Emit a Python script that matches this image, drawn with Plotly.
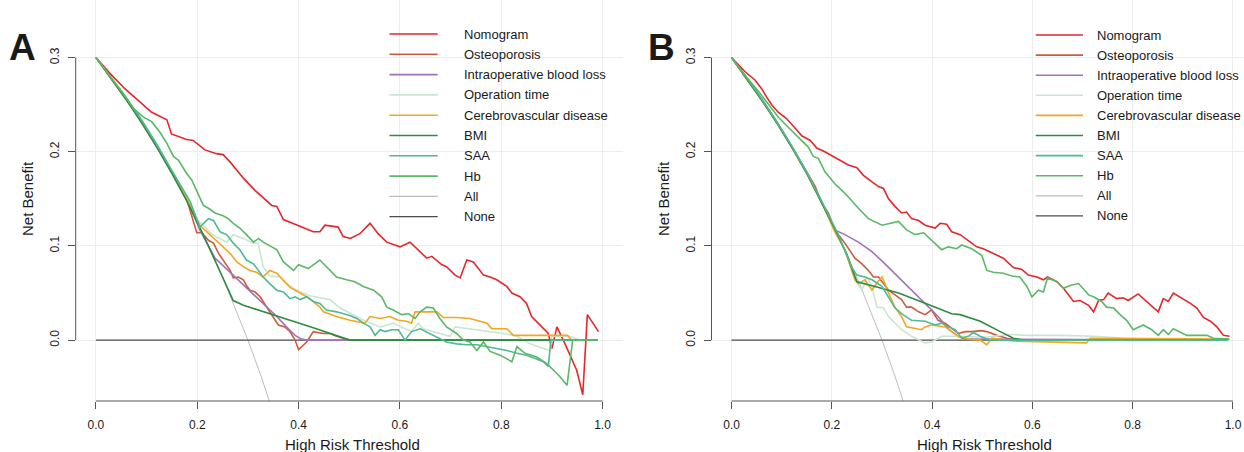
import plotly.graph_objects as go

# ---------------- data ----------------
series_names = ["Nomogram", "Osteoporosis", "Intraoperative blood loss", "Operation time",
                "Cerebrovascular disease", "BMI", "SAA", "Hb", "All", "None"]
series_colors = ["#E6262A", "#CF5A3E", "#A072B9", "#C9E6D2", "#F2A71E",
                 "#2E8B41", "#4DBA96", "#5BB866", "#BDBDBD", "#4D4D4D"]
x_ticks = [0.0, 0.2, 0.4, 0.6, 0.8, 1.0]
x_tick_labels = ["0.0", "0.2", "0.4", "0.6", "0.8", "1.0"]
y_ticks = [0.0, 0.1, 0.2, 0.3]
y_tick_labels = ["0.0", "0.1", "0.2", "0.3"]
panel_labels = ["A", "B"]
x_title = "High Risk Threshold"
y_title = "Net Benefit"

# reference strategies (same in both panels)
all_t = [0, 0.025, 0.05, 0.075, 0.1, 0.125, 0.15, 0.175, 0.2, 0.225, 0.25, 0.275, 0.3, 0.325, 0.35]
all_nb = [0.3, 0.282, 0.263, 0.243, 0.222, 0.200, 0.176, 0.152, 0.125, 0.097, 0.067, 0.034, 0.0, -0.037, -0.077]
none_t = [0.0, 0.99]
none_nb = [0.0, 0.0]

# ---- panel A ----
a_nomogram_t = [0, 0.028, 0.057, 0.087, 0.110, 0.140, 0.149, 0.179, 0.192, 0.215, 0.238, 0.251, 0.265, 0.291, 0.314,
                0.347, 0.357, 0.370, 0.400, 0.429, 0.442, 0.452, 0.478, 0.488, 0.502, 0.521, 0.541, 0.557, 0.574, 0.600,
                0.620, 0.640, 0.653, 0.663, 0.683, 0.692, 0.709, 0.719, 0.732, 0.745, 0.765, 0.778, 0.791, 0.811, 0.821,
                0.837, 0.850, 0.860, 0.877, 0.893, 0.900, 0.910, 0.926, 0.949, 0.961, 0.970, 0.992]
a_nomogram_nb = [0.300, 0.283, 0.267, 0.253, 0.242, 0.234, 0.219, 0.213, 0.212, 0.202, 0.198, 0.197, 0.189, 0.172, 0.159,
                 0.143, 0.142, 0.128, 0.121, 0.115, 0.115, 0.122, 0.120, 0.110, 0.108, 0.113, 0.124, 0.113, 0.104, 0.099,
                 0.104, 0.094, 0.087, 0.089, 0.080, 0.078, 0.069, 0.066, 0.085, 0.083, 0.069, 0.067, 0.064, 0.057, 0.050,
                 0.046, 0.039, 0.025, 0.016, 0.007, -0.009, 0.014, -0.004, -0.032, -0.058, 0.027, 0.009]

a_osteo_t = [0, 0.03, 0.06, 0.09, 0.12, 0.15, 0.18, 0.199, 0.209, 0.222, 0.232, 0.242, 0.251, 0.265, 0.271,
             0.281, 0.291, 0.297, 0.304, 0.314, 0.324, 0.337, 0.347, 0.360, 0.373, 0.383, 0.393, 0.400, 0.416, 0.429,
             0.449, 0.462, 0.475, 0.501, 0.990]
a_osteo_nb = [0.300, 0.278, 0.256, 0.232, 0.206, 0.178, 0.148, 0.114, 0.114, 0.106, 0.103, 0.092, 0.085, 0.074, 0.066,
              0.067, 0.064, 0.058, 0.053, 0.051, 0.046, 0.035, 0.028, 0.016, 0.014, 0.009, 0.000, -0.010, -0.002, 0.009,
              0.007, 0.007, 0.004, 0.000, 0.000]

a_blood_t = [0, 0.03, 0.06, 0.09, 0.12, 0.15, 0.18, 0.205, 0.235, 0.251, 0.275, 0.297, 0.317, 0.337, 0.357,
             0.376, 0.393, 0.406, 0.416, 0.500]
a_blood_nb = [0.300, 0.278, 0.256, 0.232, 0.206, 0.178, 0.149, 0.117, 0.087, 0.079, 0.067, 0.056, 0.046, 0.035, 0.025,
              0.014, 0.005, 0.001, 0.000, 0.000]

a_optime_t = [0, 0.03, 0.06, 0.09, 0.12, 0.15, 0.18, 0.20, 0.23, 0.258, 0.271, 0.291, 0.310, 0.320, 0.330,
              0.343, 0.363, 0.376, 0.396, 0.422, 0.442, 0.462, 0.482, 0.502, 0.528, 0.561, 0.587, 0.610, 0.623, 0.636,
              0.646, 0.679, 0.699, 0.709, 0.738, 0.772, 0.805, 0.831, 0.857, 0.883, 0.897, 0.900, 0.936, 0.955, 0.990]
a_optime_nb = [0.300, 0.278, 0.256, 0.232, 0.206, 0.179, 0.150, 0.128, 0.112, 0.104, 0.112, 0.108, 0.103, 0.103, 0.078,
               0.068, 0.067, 0.060, 0.053, 0.047, 0.045, 0.043, 0.034, 0.028, 0.021, 0.014, 0.018, 0.012, 0.009, 0.018,
               0.012, 0.007, 0.004, 0.014, 0.012, 0.009, 0.007, 0.004, -0.004, -0.009, -0.011, 0.004, 0.004, 0.000, 0.000]

a_cerebro_t = [0, 0.03, 0.06, 0.09, 0.12, 0.15, 0.18, 0.205, 0.225, 0.245, 0.265, 0.278, 0.291, 0.304, 0.317,
               0.330, 0.343, 0.357, 0.370, 0.383, 0.403, 0.422, 0.442, 0.449, 0.475, 0.501, 0.531, 0.541, 0.561, 0.580,
               0.597, 0.613, 0.623, 0.630, 0.673, 0.686, 0.712, 0.738, 0.758, 0.772, 0.781, 0.811, 0.824, 0.931, 0.939,
               0.990]
a_cerebro_nb = [0.300, 0.279, 0.257, 0.233, 0.207, 0.179, 0.149, 0.122, 0.112, 0.103, 0.092, 0.083, 0.078, 0.074, 0.072,
                0.067, 0.074, 0.071, 0.064, 0.056, 0.050, 0.044, 0.035, 0.030, 0.025, 0.021, 0.018, 0.025, 0.023, 0.025,
                0.021, 0.020, 0.018, 0.030, 0.030, 0.024, 0.024, 0.023, 0.020, 0.018, 0.012, 0.012, 0.005, 0.005, 0.000,
                0.000]

a_bmi_t = [0, 0.03, 0.06, 0.09, 0.12, 0.15, 0.18, 0.21, 0.24, 0.271, 0.291, 0.330, 0.383, 0.435, 0.475, 0.501, 0.990]
a_bmi_nb = [0.300, 0.278, 0.255, 0.231, 0.205, 0.177, 0.147, 0.114, 0.078, 0.042, 0.037, 0.030, 0.021, 0.012, 0.005,
            0.000, 0.000]

a_saa_t = [0, 0.03, 0.06, 0.09, 0.12, 0.15, 0.186, 0.205, 0.222, 0.232, 0.245, 0.258, 0.271, 0.284, 0.297,
           0.311, 0.320, 0.330, 0.343, 0.357, 0.370, 0.383, 0.393, 0.403, 0.416, 0.429, 0.442, 0.455, 0.475, 0.501,
           0.515, 0.528, 0.541, 0.551, 0.561, 0.571, 0.584, 0.597, 0.610, 0.623, 0.640, 0.659, 0.679, 0.692, 0.712,
           0.732, 0.752, 0.772, 0.791, 0.811, 0.831, 0.850, 0.870, 0.883, 0.893, 0.898, 0.990]
a_saa_nb = [0.300, 0.279, 0.257, 0.234, 0.208, 0.180, 0.147, 0.120, 0.129, 0.127, 0.115, 0.112, 0.103, 0.096, 0.085,
            0.081, 0.074, 0.067, 0.060, 0.053, 0.051, 0.044, 0.046, 0.043, 0.046, 0.041, 0.039, 0.032, 0.030, 0.026,
            0.023, 0.018, 0.014, 0.005, 0.011, 0.009, 0.011, 0.011, 0.000, 0.009, 0.012, 0.007, 0.002, -0.002, -0.004,
            -0.005, -0.005, -0.007, -0.009, -0.011, -0.014, -0.016, -0.020, -0.023, -0.028, 0.000, 0.000]

a_hb_t = [0, 0.028, 0.054, 0.074, 0.093, 0.110, 0.126, 0.140, 0.153, 0.163, 0.179, 0.189, 0.199, 0.212, 0.222,
          0.235, 0.251, 0.261, 0.271, 0.284, 0.297, 0.311, 0.321, 0.330, 0.347, 0.357, 0.370, 0.390, 0.400, 0.419,
          0.442, 0.459, 0.475, 0.495, 0.511, 0.528, 0.548, 0.564, 0.574, 0.587, 0.603, 0.617, 0.630, 0.640, 0.653,
          0.666, 0.679, 0.692, 0.712, 0.725, 0.738, 0.752, 0.765, 0.778, 0.798, 0.821, 0.831, 0.847, 0.870, 0.890,
          0.913, 0.930, 0.941, 0.990]
a_hb_nb = [0.300, 0.280, 0.262, 0.246, 0.237, 0.232, 0.221, 0.209, 0.195, 0.191, 0.177, 0.170, 0.159, 0.143, 0.140,
           0.135, 0.132, 0.129, 0.124, 0.119, 0.112, 0.104, 0.108, 0.104, 0.099, 0.096, 0.083, 0.074, 0.080, 0.076,
           0.085, 0.076, 0.067, 0.064, 0.062, 0.057, 0.053, 0.046, 0.035, 0.032, 0.027, 0.028, 0.023, 0.030, 0.035,
           0.034, 0.023, 0.014, 0.007, 0.000, -0.002, -0.011, -0.002, -0.012, -0.016, -0.023, -0.007, -0.014, -0.018,
           -0.025, -0.037, -0.048, 0.000, 0.000]

# ---- panel B ----
b_nomogram_t = [0, 0.027, 0.047, 0.060, 0.070, 0.080, 0.093, 0.110, 0.127, 0.140, 0.157, 0.170, 0.186, 0.200, 0.216,
                0.233, 0.250, 0.263, 0.280, 0.293, 0.303, 0.313, 0.326, 0.339, 0.349, 0.359, 0.373, 0.386, 0.406, 0.416,
                0.429, 0.439, 0.456, 0.476, 0.489, 0.502, 0.522, 0.542, 0.562, 0.579, 0.592, 0.609, 0.622, 0.630, 0.649,
                0.662, 0.682, 0.695, 0.712, 0.722, 0.732, 0.742, 0.751, 0.768, 0.781, 0.791, 0.811, 0.828, 0.851, 0.861,
                0.871, 0.881, 0.894, 0.915, 0.928, 0.941, 0.955, 0.968, 0.981, 0.993]
b_nomogram_nb = [0.300, 0.285, 0.276, 0.267, 0.258, 0.250, 0.242, 0.235, 0.225, 0.217, 0.212, 0.204, 0.200, 0.196, 0.191,
                 0.186, 0.183, 0.175, 0.168, 0.163, 0.161, 0.150, 0.142, 0.135, 0.136, 0.129, 0.127, 0.122, 0.119, 0.124,
                 0.123, 0.115, 0.112, 0.104, 0.099, 0.097, 0.092, 0.087, 0.077, 0.075, 0.069, 0.067, 0.064, 0.067, 0.062,
                 0.055, 0.041, 0.042, 0.037, 0.030, 0.042, 0.043, 0.050, 0.044, 0.045, 0.042, 0.049, 0.041, 0.030, 0.044,
                 0.041, 0.050, 0.046, 0.039, 0.034, 0.024, 0.020, 0.014, 0.005, 0.004]

b_osteo_t = [0, 0.03, 0.06, 0.09, 0.12, 0.15, 0.167, 0.180, 0.193, 0.206, 0.226, 0.246, 0.260, 0.273, 0.283,
             0.293, 0.303, 0.313, 0.326, 0.339, 0.349, 0.359, 0.373, 0.386, 0.399, 0.412, 0.426, 0.439, 0.452, 0.466,
             0.482, 0.496, 0.509, 0.529, 0.549, 0.569, 0.990]
b_osteo_nb = [0.300, 0.279, 0.256, 0.232, 0.206, 0.178, 0.163, 0.145, 0.135, 0.117, 0.103, 0.087, 0.081, 0.074, 0.067,
              0.067, 0.060, 0.053, 0.048, 0.043, 0.035, 0.035, 0.030, 0.027, 0.032, 0.021, 0.018, 0.012, 0.007, 0.009,
              0.009, 0.010, 0.009, 0.005, 0.002, 0.000, 0.000]

b_blood_t = [0, 0.03, 0.06, 0.09, 0.12, 0.15, 0.18, 0.206, 0.226, 0.253, 0.280, 0.306, 0.333, 0.359, 0.386,
             0.412, 0.432, 0.452, 0.466, 0.990]
b_blood_nb = [0.300, 0.278, 0.256, 0.232, 0.206, 0.178, 0.147, 0.117, 0.112, 0.104, 0.094, 0.081, 0.067, 0.053, 0.039,
              0.025, 0.012, 0.004, 0.001, 0.000]

b_optime_t = [0, 0.03, 0.06, 0.09, 0.12, 0.15, 0.18, 0.206, 0.226, 0.246, 0.260, 0.270, 0.280, 0.290, 0.303,
              0.313, 0.326, 0.339, 0.359, 0.386, 0.399, 0.419, 0.452, 0.506, 0.555, 0.589, 0.655, 0.722, 0.788, 0.993]
b_optime_nb = [0.300, 0.278, 0.255, 0.231, 0.205, 0.177, 0.146, 0.117, 0.095, 0.064, 0.053, 0.067, 0.057, 0.035, 0.034,
               0.025, 0.018, 0.011, 0.004, -0.003, -0.002, 0.004, 0.004, 0.003, 0.006, 0.005, 0.005, 0.004, 0.002, 0.000]

b_cerebro_t = [0, 0.03, 0.06, 0.09, 0.12, 0.15, 0.18, 0.206, 0.226, 0.246, 0.253, 0.266, 0.280, 0.289, 0.300,
               0.306, 0.313, 0.326, 0.339, 0.349, 0.366, 0.379, 0.386, 0.399, 0.426, 0.452, 0.472, 0.496, 0.509, 0.519,
               0.562, 0.708, 0.715, 0.990]
b_cerebro_nb = [0.300, 0.278, 0.255, 0.231, 0.205, 0.177, 0.146, 0.115, 0.096, 0.064, 0.060, 0.064, 0.053, 0.060, 0.067,
                0.060, 0.050, 0.035, 0.025, 0.014, 0.012, 0.011, 0.014, 0.016, 0.014, 0.004, 0.001, 0.000, -0.005, 0.002,
                -0.001, -0.003, 0.002, 0.001]

b_bmi_t = [0, 0.03, 0.06, 0.09, 0.12, 0.15, 0.18, 0.206, 0.23, 0.250, 0.286, 0.333, 0.386, 0.439, 0.456,
           0.496, 0.536, 0.562, 0.582, 0.990]
b_bmi_nb = [0.300, 0.278, 0.255, 0.231, 0.205, 0.177, 0.146, 0.118, 0.091, 0.062, 0.057, 0.050, 0.039, 0.028, 0.027,
            0.020, 0.009, 0.002, 0.000, 0.000]

b_saa_t = [0, 0.03, 0.06, 0.09, 0.12, 0.15, 0.18, 0.213, 0.240, 0.250, 0.266, 0.280, 0.300, 0.313, 0.326,
           0.339, 0.359, 0.386, 0.406, 0.419, 0.432, 0.446, 0.459, 0.472, 0.482, 0.496, 0.515, 0.990]
b_saa_nb = [0.300, 0.279, 0.256, 0.232, 0.206, 0.178, 0.147, 0.112, 0.077, 0.069, 0.067, 0.064, 0.057, 0.046, 0.034,
            0.028, 0.021, 0.020, 0.016, 0.018, 0.014, 0.011, 0.002, 0.004, 0.008, 0.004, 0.000, 0.000]

b_hb_t = [0, 0.027, 0.054, 0.074, 0.093, 0.113, 0.133, 0.153, 0.163, 0.173, 0.186, 0.206, 0.220, 0.233, 0.253,
          0.273, 0.300, 0.319, 0.333, 0.349, 0.366, 0.383, 0.399, 0.419, 0.432, 0.449, 0.459, 0.479, 0.499, 0.509,
          0.522, 0.542, 0.559, 0.575, 0.589, 0.599, 0.612, 0.622, 0.630, 0.649, 0.662, 0.675, 0.692, 0.712, 0.722,
          0.738, 0.748, 0.762, 0.775, 0.788, 0.801, 0.821, 0.838, 0.851, 0.861, 0.871, 0.881, 0.908, 0.948, 0.961,
          0.993]
b_hb_nb = [0.300, 0.281, 0.264, 0.250, 0.237, 0.226, 0.216, 0.205, 0.195, 0.193, 0.179, 0.166, 0.159, 0.152, 0.140,
           0.129, 0.122, 0.124, 0.126, 0.117, 0.112, 0.114, 0.106, 0.096, 0.099, 0.097, 0.101, 0.097, 0.090, 0.074,
           0.072, 0.071, 0.068, 0.067, 0.057, 0.046, 0.053, 0.051, 0.066, 0.062, 0.055, 0.058, 0.060, 0.048, 0.046,
           0.041, 0.035, 0.034, 0.027, 0.021, 0.011, 0.016, 0.011, 0.005, 0.011, 0.006, 0.012, 0.005, 0.005, 0.002,
           0.001]

panel_a_series = [(a_nomogram_t, a_nomogram_nb), (a_osteo_t, a_osteo_nb), (a_blood_t, a_blood_nb),
                  (a_optime_t, a_optime_nb), (a_cerebro_t, a_cerebro_nb), (a_bmi_t, a_bmi_nb),
                  (a_saa_t, a_saa_nb), (a_hb_t, a_hb_nb), (all_t, all_nb), (none_t, none_nb)]
panel_b_series = [(b_nomogram_t, b_nomogram_nb), (b_osteo_t, b_osteo_nb), (b_blood_t, b_blood_nb),
                  (b_optime_t, b_optime_nb), (b_cerebro_t, b_cerebro_nb), (b_bmi_t, b_bmi_nb),
                  (b_saa_t, b_saa_nb), (b_hb_t, b_hb_nb), (all_t, all_nb), (none_t, none_nb)]

# ---------------- layout helpers ----------------
W, H = 1244, 452
PLOT_BOTTOM = 401  # pixel row of the bottom of the plotting regions
FONT = "Liberation Sans, Arial, Helvetica, sans-serif"


def px_x(px):
    return px / W


def px_y(py):
    return (PLOT_BOTTOM - py) / PLOT_BOTTOM


fig = go.Figure()

# draw order: All, None first, then the models (Hb last)
draw_order = [8, 9, 0, 1, 2, 3, 4, 5, 6, 7]
for axis_suffix, series in (("", panel_a_series), ("2", panel_b_series)):
    for idx in draw_order:
        t_vals, nb_vals = series[idx]
        width = 1.0 if idx == 8 else (1.2 if idx == 9 else 1.6)
        fig.add_trace(go.Scatter(
            x=t_vals, y=nb_vals, mode="lines", name=series_names[idx],
            line=dict(color=series_colors[idx], width=width),
            xaxis="x" + axis_suffix, yaxis="y" + axis_suffix,
            showlegend=False, hoverinfo="skip"))

axis_common = dict(
    ticks="outside", ticklen=7, tickwidth=1, tickcolor="#555555",
    showgrid=True, gridcolor="#EDEDED", gridwidth=1, zeroline=False, showline=False,
    tickfont=dict(family=FONT, size=12, color="#1A1A1A"),
)

x_range_a = [-0.04, 1.04]
x_range_b = [-0.04, 1.022]
y_range = [-0.0647, 0.3612]

fig.update_layout(
    width=W, height=H,
    margin=dict(l=0, r=0, t=0, b=H - PLOT_BOTTOM),
    paper_bgcolor="white", plot_bgcolor="white",
    showlegend=False,
    font=dict(family=FONT, color="#1A1A1A"),
    xaxis=dict(domain=[75.7 / W, 622.8 / W], range=x_range_a, anchor="y",
               tickvals=x_ticks, ticktext=x_tick_labels, ticklabelstandoff=6, **axis_common),
    yaxis=dict(domain=[0, 1], range=y_range, anchor="x",
               tickvals=y_ticks, ticktext=y_tick_labels, tickangle=-90, ticklabelstandoff=4, **axis_common),
    xaxis2=dict(domain=[711.5 / W, 1.0], range=x_range_b, anchor="y2",
                tickvals=x_ticks, ticktext=x_tick_labels, ticklabelstandoff=6, **axis_common),
    yaxis2=dict(domain=[0, 1], range=y_range, anchor="x2",
                tickvals=y_ticks, ticktext=y_tick_labels, tickangle=-90, ticklabelstandoff=4, **axis_common),
)

shapes = []
annotations = []
axis_line = dict(color="#555555", width=1)
for xs, ys in (("x", "y"), ("x2", "y2")):
    shapes.append(dict(type="line", xref=xs, yref=ys + " domain", x0=x_ticks[0], x1=x_ticks[-1],
                       y0=0, y1=0, line=axis_line))
    shapes.append(dict(type="line", xref=xs + " domain", yref=ys, x0=0, x1=0,
                       y0=y_ticks[0], y1=y_ticks[-1], line=axis_line))

# axis titles and panel letters
for label, title_x, ylab_x, letter_x in ((panel_labels[0], 352, 28, 22), (panel_labels[1], 984, 664, 661)):
    annotations.append(dict(text=x_title, xref="paper", yref="paper", x=px_x(title_x), y=px_y(444),
                            xanchor="center", yanchor="middle", showarrow=False,
                            font=dict(family=FONT, size=15, color="#1A1A1A")))
    annotations.append(dict(text=y_title, xref="paper", yref="paper", x=px_x(ylab_x), y=px_y(199),
                            xanchor="center", yanchor="middle", showarrow=False, textangle=-90,
                            font=dict(family=FONT, size=15, color="#1A1A1A")))
    annotations.append(dict(text="<b>" + label + "</b>", xref="paper", yref="paper", x=px_x(letter_x), y=px_y(47),
                            xanchor="center", yanchor="middle", showarrow=False,
                            font=dict(family=FONT, size=37, color="#1A1A1A")))

# legends (drawn as line samples + text, one per panel)
for line_x0, line_x1, text_x, row0, row_step in ((389.5, 437.7, 461.7, 34.0, 20.3),
                                                   (1035.7, 1083.0, 1095.0, 35.0, 20.1)):
    for i, name in enumerate(series_names):
        yy = row0 + i * row_step
        shapes.append(dict(type="line", xref="paper", yref="paper",
                           x0=px_x(line_x0), x1=px_x(line_x1), y0=px_y(yy), y1=px_y(yy),
                           line=dict(color=series_colors[i], width=1.6 if i < 8 else 1.2)))
        annotations.append(dict(text=name, xref="paper", yref="paper", x=px_x(text_x), y=px_y(yy),
                                xanchor="left", yanchor="middle", showarrow=False,
                                font=dict(family=FONT, size=13, color="#1A1A1A")))

fig.update_layout(shapes=shapes, annotations=annotations)
fig.write_html("out.html")
